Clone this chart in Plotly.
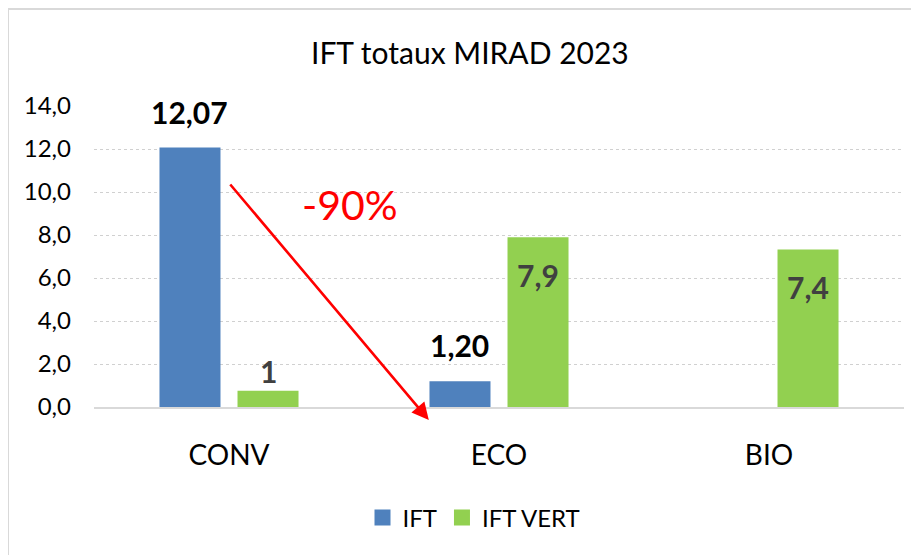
import plotly.graph_objects as go

categories = ["CONV", "ECO", "BIO"]
ift_values = [12.07, 1.20, 0.0]
ift_vert_values = [0.76, 7.89, 7.33]
ift_labels = ["12,07", "1,20", ""]
ift_vert_labels = ["1", "7,9", "7,4"]
y_ticks = [0, 2, 4, 6, 8, 10, 12, 14]
y_tick_labels = ["0,0", "2,0", "4,0", "6,0", "8,0", "10,0", "12,0", "14,0"]

BLUE = "#4f81bd"
GREEN = "#92d050"
FONT = "Lato"

# the page body adds an 8px margin: size figure accordingly
OFF = 8
W, H = 919 - OFF, 555 - OFF
L, R, T, B = 94 - OFF, 15, 106 - OFF, 148
plot_w = W - L - R
plot_h = H - T - B


def px_x(x):
    return (x - OFF - L) / plot_w


def px_y(y):
    return (H - B - (y - OFF)) / plot_h


fig = go.Figure()
fig.add_trace(go.Bar(name="IFT", x=categories, y=ift_values, marker_color=BLUE,
                     marker_line_width=0, showlegend=False))
fig.add_trace(go.Bar(name="IFT VERT", x=categories, y=ift_vert_values, marker_color=GREEN,
                     marker_line_width=0, showlegend=False))
# legend entries with larger square symbols
fig.add_trace(go.Scatter(name="IFT", x=[None], y=[None], mode="markers",
                         marker=dict(symbol="square", size=16, color=BLUE)))
fig.add_trace(go.Scatter(name="IFT VERT", x=[None], y=[None], mode="markers",
                         marker=dict(symbol="square", size=16, color=GREEN)))

bargap = 0.422
slot = (1 - bargap) / 2
off = slot / 2

annotations = []
for i, (v, t) in enumerate(zip(ift_values, ift_labels)):
    if t:
        annotations.append(dict(x=i - off, y=v, xref="x", yref="y", text="<b>%s</b>" % t,
                                showarrow=False, yanchor="bottom", yshift=16,
                                font=dict(family=FONT, size=30, color="#000000")))
for i, (v, t) in enumerate(zip(ift_vert_values, ift_vert_labels)):
    if v < 3:
        annotations.append(dict(x=i + off, y=v, xref="x", yref="y", text="<b>%s</b>" % t,
                                showarrow=False, yanchor="bottom", yshift=0,
                                font=dict(family=FONT, size=30, color="#404040")))
    else:
        annotations.append(dict(x=i + off, y=v, xref="x", yref="y", text="<b>%s</b>" % t,
                                showarrow=False, yanchor="top", yshift=-18,
                                font=dict(family=FONT, size=30, color="#404040")))

# red arrow CONV -> ECO
annotations.append(dict(x=0.74, y=-0.6, ax=0.0, ay=10.42, xref="x", yref="y",
                        axref="x", ayref="y", text="", showarrow=True, arrowhead=2,
                        arrowsize=1.3, arrowwidth=2.6, arrowcolor="#ff0000"))
annotations.append(dict(x=0.448, y=9.44, xref="x", yref="y", text="-90%",
                        showarrow=False, font=dict(family=FONT, size=41, color="#ff0000")))
# chart title
annotations.append(dict(x=px_x(470), y=px_y(52), xref="paper", yref="paper",
                        text="IFT totaux MIRAD 2023", showarrow=False,
                        xanchor="center", yanchor="middle",
                        font=dict(family=FONT, size=30, color="#000000")))

shapes = [
    dict(type="line", xref="paper", yref="paper",
         x0=px_x(8), x1=px_x(8), y0=px_y(9), y1=px_y(570),
         line=dict(color="#d9d9d9", width=2)),
    dict(type="line", xref="paper", yref="paper",
         x0=px_x(8), x1=px_x(916), y0=px_y(9), y1=px_y(9),
         line=dict(color="#d9d9d9", width=2)),
]

fig.update_layout(
    width=W, height=H,
    margin=dict(l=L, r=R, t=T, b=B),
    paper_bgcolor="white", plot_bgcolor="white",
    barmode="group", bargap=bargap, bargroupgap=0.218,
    font=dict(family=FONT, color="#000000"),
    legend=dict(orientation="h", x=px_x(474), xanchor="center",
                y=px_y(518), yanchor="middle",
                font=dict(family=FONT, size=24, color="#000000"),
                itemwidth=30, tracegroupgap=0),
    annotations=annotations,
    shapes=shapes,
)
fig.update_xaxes(showline=True, linecolor="#d9d9d9", linewidth=2, ticks="",
                 tickfont=dict(family=FONT, size=28, color="#000000"),
                 ticklabelstandoff=22, showgrid=False)
fig.update_yaxes(range=[0, 14], tickvals=y_ticks, ticktext=y_tick_labels,
                 showgrid=True, gridcolor="#d0d0d0", griddash="dot", gridwidth=1,
                 zeroline=False, showline=False, ticks="",
                 tickfont=dict(family=FONT, size=24, color="#000000"),
                 ticklabelstandoff=22)

fig.write_html("out.html")
